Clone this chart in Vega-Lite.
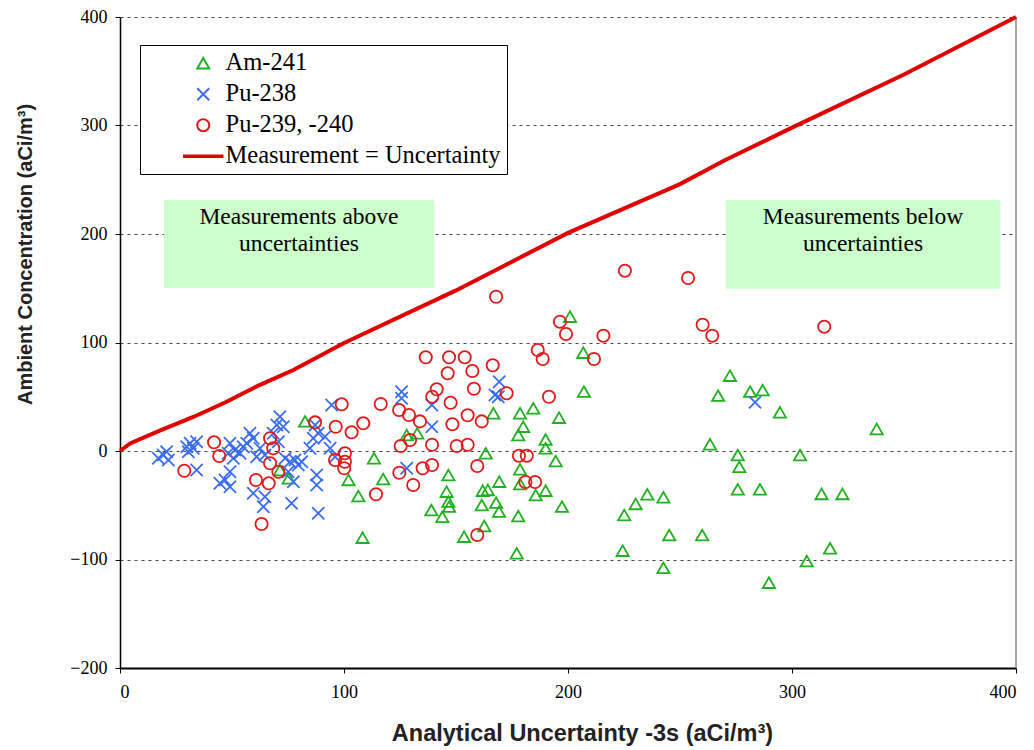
{
  "$schema": "https://vega.github.io/schema/vega-lite/v6.json",
  "width": 896,
  "height": 651,
  "autosize": {"type": "none"},
  "padding": {"left": 120, "top": 17, "right": 18, "bottom": 82},
  "background": "white",
  "config": {
    "view": {"stroke": null},
    "axis": {
      "labelFont": "Liberation Serif",
      "labelFontSize": 18,
      "labelColor": "black",
      "titleFont": "Liberation Sans",
      "titleFontWeight": "bold",
      "titleFontSize": 20,
      "titleColor": "#222",
      "domainColor": "black",
      "domainWidth": 1.5,
      "tickColor": "black",
      "tickSize": 5,
      "tickWidth": 1
    }
  },
  "datasets": {
    "points": [
      {"x": 82.6, "y": 27.3, "series": "Am-241"},
      {"x": 71.4, "y": -17.5, "series": "Am-241"},
      {"x": 75.3, "y": -25.2, "series": "Am-241"},
      {"x": 102, "y": -26.7, "series": "Am-241"},
      {"x": 113.4, "y": -6.7, "series": "Am-241"},
      {"x": 117.5, "y": -25.8, "series": "Am-241"},
      {"x": 106.4, "y": -41.5, "series": "Am-241"},
      {"x": 108.3, "y": -79.9, "series": "Am-241"},
      {"x": 128, "y": 14.7, "series": "Am-241"},
      {"x": 132.7, "y": 16.3, "series": "Am-241"},
      {"x": 146.6, "y": -22.1, "series": "Am-241"},
      {"x": 145.8, "y": -37.5, "series": "Am-241"},
      {"x": 146.6, "y": -46.7, "series": "Am-241"},
      {"x": 146.9, "y": -51.3, "series": "Am-241"},
      {"x": 139, "y": -54.4, "series": "Am-241"},
      {"x": 143.9, "y": -60.6, "series": "Am-241"},
      {"x": 153.6, "y": -79, "series": "Am-241"},
      {"x": 166.7, "y": 34.7, "series": "Am-241"},
      {"x": 178.6, "y": 34.7, "series": "Am-241"},
      {"x": 184.5, "y": 39.4, "series": "Am-241"},
      {"x": 180, "y": 22.4, "series": "Am-241"},
      {"x": 177.8, "y": 14.7, "series": "Am-241"},
      {"x": 190, "y": 10.5, "series": "Am-241"},
      {"x": 190, "y": 2.5, "series": "Am-241"},
      {"x": 163.3, "y": -2.1, "series": "Am-241"},
      {"x": 178.6, "y": -16.9, "series": "Am-241"},
      {"x": 169.3, "y": -28.3, "series": "Am-241"},
      {"x": 178.6, "y": -30.4, "series": "Am-241"},
      {"x": 190, "y": -36.6, "series": "Am-241"},
      {"x": 185.6, "y": -40.6, "series": "Am-241"},
      {"x": 161.9, "y": -36.6, "series": "Am-241"},
      {"x": 164.2, "y": -35.9, "series": "Am-241"},
      {"x": 161.5, "y": -49.8, "series": "Am-241"},
      {"x": 167.9, "y": -47.6, "series": "Am-241"},
      {"x": 169.2, "y": -55.9, "series": "Am-241"},
      {"x": 177.8, "y": -59.9, "series": "Am-241"},
      {"x": 162.6, "y": -69.1, "series": "Am-241"},
      {"x": 177.1, "y": -94.3, "series": "Am-241"},
      {"x": 200.9, "y": 123.8, "series": "Am-241"},
      {"x": 206.8, "y": 90.6, "series": "Am-241"},
      {"x": 207.1, "y": 54.7, "series": "Am-241"},
      {"x": 196, "y": 30.7, "series": "Am-241"},
      {"x": 194.5, "y": -9.2, "series": "Am-241"},
      {"x": 197.3, "y": -51.3, "series": "Am-241"},
      {"x": 272.3, "y": 69.4, "series": "Am-241"},
      {"x": 267, "y": 51, "series": "Am-241"},
      {"x": 281.3, "y": 54.7, "series": "Am-241"},
      {"x": 286.9, "y": 56.2, "series": "Am-241"},
      {"x": 294.6, "y": 35.7, "series": "Am-241"},
      {"x": 263.4, "y": 6.2, "series": "Am-241"},
      {"x": 275.8, "y": -3.7, "series": "Am-241"},
      {"x": 276.5, "y": -14.5, "series": "Am-241"},
      {"x": 275.8, "y": -35.3, "series": "Am-241"},
      {"x": 285.7, "y": -35.3, "series": "Am-241"},
      {"x": 235.4, "y": -39.9, "series": "Am-241"},
      {"x": 242.6, "y": -42.7, "series": "Am-241"},
      {"x": 230.2, "y": -48.8, "series": "Am-241"},
      {"x": 225.1, "y": -59, "series": "Am-241"},
      {"x": 245.2, "y": -77.4, "series": "Am-241"},
      {"x": 259.9, "y": -77.4, "series": "Am-241"},
      {"x": 224.4, "y": -91.9, "series": "Am-241"},
      {"x": 242.6, "y": -107.6, "series": "Am-241"},
      {"x": 289.7, "y": -121.4, "series": "Am-241"},
      {"x": 337.8, "y": 20.3, "series": "Am-241"},
      {"x": 303.6, "y": -3.7, "series": "Am-241"},
      {"x": 313.2, "y": -39.6, "series": "Am-241"},
      {"x": 322.5, "y": -39.6, "series": "Am-241"},
      {"x": 317, "y": -89.7, "series": "Am-241"},
      {"x": 306.6, "y": -101.4, "series": "Am-241"},

      {"x": 17.1, "y": -6.7, "series": "Pu-238"},
      {"x": 19.3, "y": -3.7, "series": "Pu-238"},
      {"x": 20.8, "y": -0.6, "series": "Pu-238"},
      {"x": 21.6, "y": -8.3, "series": "Pu-238"},
      {"x": 29.8, "y": 4, "series": "Pu-238"},
      {"x": 31.3, "y": 7.1, "series": "Pu-238"},
      {"x": 32.7, "y": 2.5, "series": "Pu-238"},
      {"x": 34.2, "y": 8.6, "series": "Pu-238"},
      {"x": 30.5, "y": -0.6, "series": "Pu-238"},
      {"x": 34.2, "y": -17.5, "series": "Pu-238"},
      {"x": 49.1, "y": 7.1, "series": "Pu-238"},
      {"x": 51.3, "y": 0.9, "series": "Pu-238"},
      {"x": 53.6, "y": -2.1, "series": "Pu-238"},
      {"x": 55, "y": 4, "series": "Pu-238"},
      {"x": 58, "y": 16.3, "series": "Pu-238"},
      {"x": 59.5, "y": 11.7, "series": "Pu-238"},
      {"x": 56.6, "y": 7.1, "series": "Pu-238"},
      {"x": 62.5, "y": 2.5, "series": "Pu-238"},
      {"x": 64.7, "y": -3.7, "series": "Pu-238"},
      {"x": 61, "y": -5.3, "series": "Pu-238"},
      {"x": 50.6, "y": -6.7, "series": "Pu-238"},
      {"x": 48.3, "y": -2.1, "series": "Pu-238"},
      {"x": 71.4, "y": 31.6, "series": "Pu-238"},
      {"x": 70, "y": 24, "series": "Pu-238"},
      {"x": 72.9, "y": 22.4, "series": "Pu-238"},
      {"x": 68.4, "y": 16.3, "series": "Pu-238"},
      {"x": 70.7, "y": 8.6, "series": "Pu-238"},
      {"x": 49.1, "y": -19.1, "series": "Pu-238"},
      {"x": 46.9, "y": -26.7, "series": "Pu-238"},
      {"x": 44.6, "y": -29.8, "series": "Pu-238"},
      {"x": 49.1, "y": -32.9, "series": "Pu-238"},
      {"x": 59.5, "y": -39, "series": "Pu-238"},
      {"x": 64.7, "y": -42.1, "series": "Pu-238"},
      {"x": 64, "y": -51.3, "series": "Pu-238"},
      {"x": 73.7, "y": -6.7, "series": "Pu-238"},
      {"x": 75.9, "y": -9.9, "series": "Pu-238"},
      {"x": 78.1, "y": -8.3, "series": "Pu-238"},
      {"x": 79.6, "y": -12.9, "series": "Pu-238"},
      {"x": 75.1, "y": -19.1, "series": "Pu-238"},
      {"x": 77.4, "y": -28.3, "series": "Pu-238"},
      {"x": 76.6, "y": -48.2, "series": "Pu-238"},
      {"x": 94.5, "y": 42.4, "series": "Pu-238"},
      {"x": 87.1, "y": 24, "series": "Pu-238"},
      {"x": 88.5, "y": 16.3, "series": "Pu-238"},
      {"x": 91.5, "y": 13.2, "series": "Pu-238"},
      {"x": 86.3, "y": 11.7, "series": "Pu-238"},
      {"x": 84.8, "y": 2.5, "series": "Pu-238"},
      {"x": 93.8, "y": 2.5, "series": "Pu-238"},
      {"x": 96, "y": -5.3, "series": "Pu-238"},
      {"x": 87.8, "y": -22.1, "series": "Pu-238"},
      {"x": 87.8, "y": -31.3, "series": "Pu-238"},
      {"x": 88.5, "y": -57.4, "series": "Pu-238"},
      {"x": 81.1, "y": -9.9, "series": "Pu-238"},
      {"x": 125.7, "y": 54.7, "series": "Pu-238"},
      {"x": 125.7, "y": 48.6, "series": "Pu-238"},
      {"x": 139.2, "y": 42.4, "series": "Pu-238"},
      {"x": 139.2, "y": 22.4, "series": "Pu-238"},
      {"x": 169.3, "y": 63.9, "series": "Pu-238"},
      {"x": 167.4, "y": 51.6, "series": "Pu-238"},
      {"x": 168.9, "y": 50, "series": "Pu-238"},
      {"x": 128, "y": -15.9, "series": "Pu-238"},
      {"x": 283.5, "y": 44.9, "series": "Pu-238"},

      {"x": 28.7, "y": -18.2, "series": "Pu-239, -240"},
      {"x": 42, "y": 8, "series": "Pu-239, -240"},
      {"x": 44.3, "y": -4.6, "series": "Pu-239, -240"},
      {"x": 67, "y": 11.7, "series": "Pu-239, -240"},
      {"x": 68.4, "y": 2.5, "series": "Pu-239, -240"},
      {"x": 67, "y": -11.3, "series": "Pu-239, -240"},
      {"x": 70.7, "y": -19.1, "series": "Pu-239, -240"},
      {"x": 60.7, "y": -26.7, "series": "Pu-239, -240"},
      {"x": 66.4, "y": -29.8, "series": "Pu-239, -240"},
      {"x": 63.2, "y": -67.3, "series": "Pu-239, -240"},
      {"x": 87.1, "y": 26.4, "series": "Pu-239, -240"},
      {"x": 96.3, "y": 22.4, "series": "Pu-239, -240"},
      {"x": 99, "y": 43, "series": "Pu-239, -240"},
      {"x": 103.4, "y": 17.2, "series": "Pu-239, -240"},
      {"x": 100.4, "y": -2.1, "series": "Pu-239, -240"},
      {"x": 96, "y": -8.3, "series": "Pu-239, -240"},
      {"x": 100.4, "y": -9.9, "series": "Pu-239, -240"},
      {"x": 100.1, "y": -15.9, "series": "Pu-239, -240"},
      {"x": 108.6, "y": 25.5, "series": "Pu-239, -240"},
      {"x": 116.4, "y": 43.3, "series": "Pu-239, -240"},
      {"x": 124.6, "y": 37.8, "series": "Pu-239, -240"},
      {"x": 129, "y": 33.2, "series": "Pu-239, -240"},
      {"x": 133.9, "y": 27.3, "series": "Pu-239, -240"},
      {"x": 148.4, "y": 24.6, "series": "Pu-239, -240"},
      {"x": 155.2, "y": 32.9, "series": "Pu-239, -240"},
      {"x": 161.5, "y": 27.3, "series": "Pu-239, -240"},
      {"x": 139.3, "y": 5.8, "series": "Pu-239, -240"},
      {"x": 150.3, "y": 4.6, "series": "Pu-239, -240"},
      {"x": 155.2, "y": 5.8, "series": "Pu-239, -240"},
      {"x": 125.3, "y": 4.6, "series": "Pu-239, -240"},
      {"x": 129.5, "y": 10.1, "series": "Pu-239, -240"},
      {"x": 124.7, "y": -20, "series": "Pu-239, -240"},
      {"x": 135.1, "y": -15.9, "series": "Pu-239, -240"},
      {"x": 139.3, "y": -12.9, "series": "Pu-239, -240"},
      {"x": 159.5, "y": -13.8, "series": "Pu-239, -240"},
      {"x": 178.1, "y": -4.3, "series": "Pu-239, -240"},
      {"x": 181.6, "y": -4.3, "series": "Pu-239, -240"},
      {"x": 181, "y": -28.6, "series": "Pu-239, -240"},
      {"x": 185.3, "y": -28.6, "series": "Pu-239, -240"},
      {"x": 114.3, "y": -39.9, "series": "Pu-239, -240"},
      {"x": 130.9, "y": -31.3, "series": "Pu-239, -240"},
      {"x": 159.5, "y": -77.4, "series": "Pu-239, -240"},
      {"x": 136.5, "y": 86.4, "series": "Pu-239, -240"},
      {"x": 146.9, "y": 86.4, "series": "Pu-239, -240"},
      {"x": 153.9, "y": 86.4, "series": "Pu-239, -240"},
      {"x": 146.3, "y": 71.6, "series": "Pu-239, -240"},
      {"x": 157.3, "y": 73.7, "series": "Pu-239, -240"},
      {"x": 166.4, "y": 79, "series": "Pu-239, -240"},
      {"x": 186.5, "y": 93.1, "series": "Pu-239, -240"},
      {"x": 188.7, "y": 84.8, "series": "Pu-239, -240"},
      {"x": 158, "y": 57.4, "series": "Pu-239, -240"},
      {"x": 141.4, "y": 56.9, "series": "Pu-239, -240"},
      {"x": 139.4, "y": 50, "series": "Pu-239, -240"},
      {"x": 147.6, "y": 44.5, "series": "Pu-239, -240"},
      {"x": 172.6, "y": 53.2, "series": "Pu-239, -240"},
      {"x": 191.5, "y": 50, "series": "Pu-239, -240"},
      {"x": 167.9, "y": 142.2, "series": "Pu-239, -240"},
      {"x": 225.4, "y": 166.2, "series": "Pu-239, -240"},
      {"x": 253.6, "y": 159.4, "series": "Pu-239, -240"},
      {"x": 196.4, "y": 119.2, "series": "Pu-239, -240"},
      {"x": 199.1, "y": 107.8, "series": "Pu-239, -240"},
      {"x": 215.8, "y": 106.3, "series": "Pu-239, -240"},
      {"x": 260.1, "y": 116.4, "series": "Pu-239, -240"},
      {"x": 264.4, "y": 106.3, "series": "Pu-239, -240"},
      {"x": 211.6, "y": 84.8, "series": "Pu-239, -240"},
      {"x": 314.4, "y": 114.6, "series": "Pu-239, -240"}
    ],
    "line": [
      {"x": 0, "y": 0},
      {"x": 4.5, "y": 7},
      {"x": 18, "y": 19},
      {"x": 33, "y": 31.6},
      {"x": 47.6, "y": 45.4},
      {"x": 62.5, "y": 61},
      {"x": 77.4, "y": 74.6},
      {"x": 100, "y": 99.5},
      {"x": 150, "y": 148},
      {"x": 200, "y": 201},
      {"x": 250, "y": 246},
      {"x": 270, "y": 268},
      {"x": 300, "y": 298},
      {"x": 350, "y": 347},
      {"x": 400, "y": 400}
    ],
    "boxes": [
      {"x": 19.6, "x2": 140.2, "y": 231.3, "y2": 150.2},
      {"x": 270.5, "x2": 393, "y": 231.3, "y2": 149.6}
    ],
    "notes": [
      {"x": 79.9, "y": 215.7, "label": "Measurements above"},
      {"x": 79.9, "y": 190.8, "label": "uncertainties"},
      {"x": 331.7, "y": 215.7, "label": "Measurements below"},
      {"x": 331.7, "y": 190.8, "label": "uncertainties"}
    ],
    "border": [
      {"x": 400, "y": -200, "y2": 400}
    ]
  },
  "encoding": {
    "x": {
      "field": "x",
      "type": "quantitative",
      "scale": {"domain": [0, 400], "nice": false, "zero": false},
      "axis": {
        "title": "Analytical Uncertainty -3s  (aCi/m³)",
        "values": [0, 100, 200, 300, 400],
        "grid": false,
        "labelPadding": 10,
        "titleX": 462,
        "titleY": 53,
        "titleBaseline": "top",
        "titleFontSize": 23.5,
        "domainWidth": 2
      }
    },
    "y": {
      "field": "y",
      "type": "quantitative",
      "scale": {"domain": [-200, 400], "nice": false, "zero": false},
      "axis": {
        "title": "Ambient Concentration (aCi/m³)",
        "values": [-200, -100, 0, 100, 200, 300, 400],
        "grid": true,
        "gridColor": "#444",
        "gridDash": [3, 4],
        "gridWidth": 1,
        "labelPadding": 8,
        "titleX": -95,
        "titleY": 237,
        "titleAngle": 270,
        "titleAlign": "center",
        "titleBaseline": "middle"
      }
    }
  },
  "layer": [
    {
      "data": {"name": "boxes"},
      "mark": {"type": "rect", "fill": "#ccffcc"},
      "encoding": {"x2": {"field": "x2"}, "y2": {"field": "y2"}}
    },
    {
      "data": {"name": "notes"},
      "mark": {"type": "text", "font": "Liberation Serif", "fontSize": 23.5, "color": "black", "align": "center", "baseline": "middle"},
      "encoding": {"text": {"field": "label"}}
    },
    {
      "data": {"name": "border"},
      "mark": {"type": "rule", "color": "#888", "strokeWidth": 1.5},
      "encoding": {"y2": {"field": "y2"}}
    },
    {
      "data": {"name": "line"},
      "mark": {"type": "line", "color": "#e00000", "strokeWidth": 4},
      "encoding": {}
    },
    {
      "data": {"name": "points"},
      "mark": {"type": "point", "filled": false, "size": 150, "strokeWidth": 1.8, "opacity": 1},
      "encoding": {
        "color": {
          "field": "series",
          "type": "nominal",
          "scale": {
            "domain": ["Am-241", "Pu-238", "Pu-239, -240", "Measurement = Uncertainty"],
            "range": ["#20b020", "#3b6cf5", "#e01a1a", "#e00000"]
          },
          "legend": {
            "title": null,
            "orient": "none",
            "legendX": 20,
            "legendY": 28,
            "padding": 6,
            "strokeColor": "black",
            "fillColor": "white",
            "labelFont": "Liberation Serif",
            "labelFontSize": 24.5,
            "labelColor": "black",
            "labelLimit": 400,
            "symbolSize": 144,
            "symbolStrokeWidth": 2,
            "symbolOpacity": 1,
            "rowPadding": 6,
            "symbolOffset": 45,
            "labelOffset": 10
          }
        },
        "shape": {
          "field": "series",
          "type": "nominal",
          "scale": {
            "domain": ["Am-241", "Pu-238", "Pu-239, -240", "Measurement = Uncertainty"],
            "range": ["triangle-up", "M-1,-1L1,1M-1,1L1,-1", "circle", "M-3.2,-0.13L3.2,-0.13L3.2,0.13L-3.2,0.13Z"]
          },
          "legend": {
            "title": null,
            "orient": "none",
            "legendX": 20,
            "legendY": 28,
            "padding": 6,
            "strokeColor": "black",
            "fillColor": "white",
            "labelFont": "Liberation Serif",
            "labelFontSize": 24.5,
            "labelColor": "black",
            "labelLimit": 400,
            "symbolSize": 144,
            "symbolStrokeWidth": 2,
            "symbolOpacity": 1,
            "rowPadding": 6,
            "symbolOffset": 45,
            "labelOffset": 10
          }
        }
      }
    }
  ]
}
